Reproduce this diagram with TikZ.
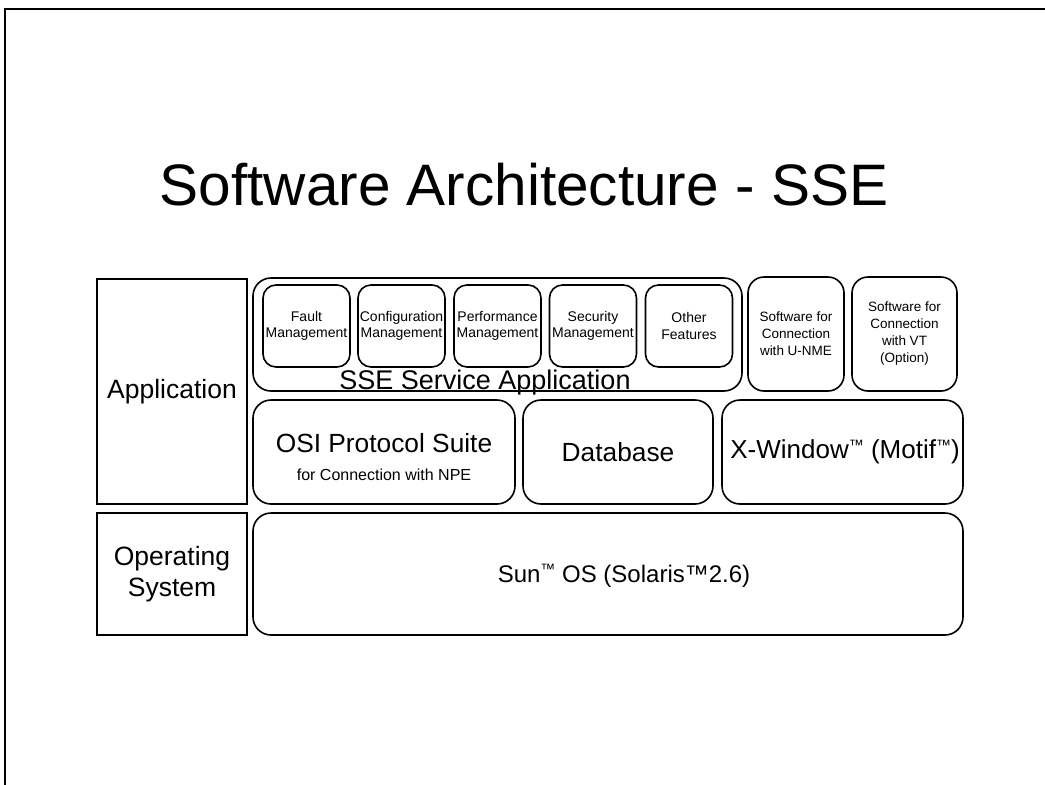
\documentclass[tikz,border=0pt]{standalone}
\usepackage{fontspec}
\setmainfont{Liberation Sans}
\newcommand\smalltm{{\fontsize{15}{15}\selectfont\raisebox{8pt}{™}}}
\begin{document}
\begin{tikzpicture}[x=1pt,y=-1pt,
  lbl/.style={draw,line width=1.6pt,inner sep=0pt,align=center,font=\fontsize{26.5}{31}\selectfont},
  rbox/.style={draw,line width=1.6pt,rounded corners=18pt,inner sep=0pt,align=center},
  small/.style={rbox,rounded corners=13pt,minimum width=87pt,minimum height=82pt,font=\fontsize{14}{16.5}\selectfont},
  big/.style={font=\fontsize{26.3}{30}\selectfont}]
\useasboundingbox (0,0) rectangle (1045,785);
\fill[white] (0,0) rectangle (1045,785);
\coordinate (fb) at (5,785);
\coordinate (fc) at (5,9);
\coordinate (fr) at (1045,9);
\draw[line width=2pt] (fb) -- (fc) -- (fr);
\node[anchor=base,font=\fontsize{58.5}{62}\selectfont] (title) at (524,205) {Software Architecture - SSE};
\node[lbl,minimum width=150pt,minimum height=225pt] (app) at (172,391.5) {Application};
\node[lbl,minimum width=150pt,minimum height=122pt] (os) at (172,574) {Operating\\System};
\node[rbox,minimum width=489pt,minimum height=113pt] (sse) at (497.5,334.5) {};
\node[anchor=base,font=\fontsize{27}{29}\selectfont] (ssel) at (485,389) {SSE Service Application};
\node[small] (fault) at (306.5,326) {Fault\\Management};
\node[small] (conf) at (401.5,326) {Configuration\\Management};
\node[small] (perf) at (497.5,326) {Performance\\Management};
\node[small] (sec) at (593,326) {Security\\Management};
\node[small] (oth) at (689,326) {Other\\Features};
\node[rbox,rounded corners=16pt,minimum width=96pt,minimum height=114pt,font=\fontsize{13.5}{17}\selectfont] (unme) at (796,334) {Software for\\Connection\\with U-NME};
\node[rbox,rounded corners=16pt,minimum width=105pt,minimum height=114pt,font=\fontsize{13.5}{17}\selectfont] (vt) at (904.5,334) {Software for\\Connection\\with VT\\(Option)};
\node[rbox,minimum width=262pt,minimum height=104pt] (osi) at (384,452) {};
\node[align=center,inner sep=0pt,font=\fontsize{26.3}{28}\selectfont] (osil) at (384,457) {OSI Protocol Suite\\{\fontsize{16}{28}\selectfont for Connection with NPE}};
\node[rbox,big,minimum width=190pt,minimum height=104pt] (db) at (618,452) {Database};
\node[rbox,minimum width=241pt,minimum height=104pt] (xw) at (842.5,452) {};
\node[inner sep=0pt,font=\fontsize{26}{30}\selectfont] (xwl) at (845,452) {X-Window\smalltm{} (Motif\smalltm)};
\node[rbox,minimum width=710pt,minimum height=122pt] (sun) at (608,574) {};
\node[font=\fontsize{24}{28}\selectfont] (sunl) at (624,576) {Sun\smalltm{} OS (Solaris™2.6)};
\end{tikzpicture}
\end{document}
